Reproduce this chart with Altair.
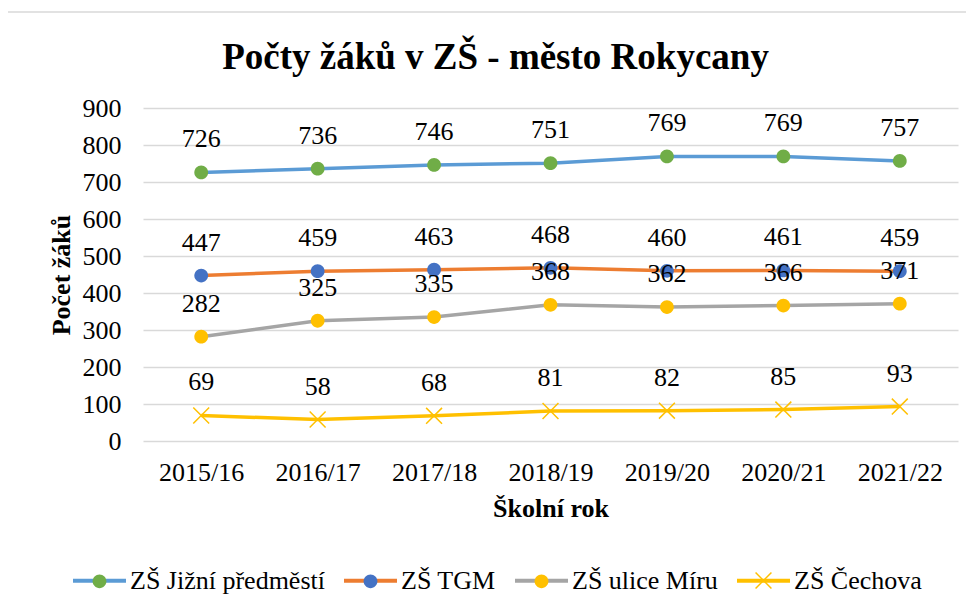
import altair as alt
import pandas as pd

years = ["2015/16", "2016/17", "2017/18", "2018/19", "2019/20", "2020/21", "2021/22"]
series = ["ZŠ Jižní předměstí", "ZŠ TGM", "ZŠ ulice Míru", "ZŠ Čechova"]
jizni = [726, 736, 746, 751, 769, 769, 757]
tgm = [447, 459, 463, 468, 460, 461, 459]
miru = [282, 325, 335, 368, 362, 366, 371]
cechova = [69, 58, 68, 81, 82, 85, 93]

line_colors = ["#5B9BD5", "#ED7D31", "#A5A5A5", "#FFC000"]
marker_colors = ["#70AD47", "#4472C4", "#FFC000", "#FFC000"]

# symbol paths share the same -1..1 horizontal extent (via move-to points) so the
# line legend and the marker legend lay out identically
CIRCLE_PATH = ("M-1,0M1,0M-0.26,0A0.26,0.26,0,1,1,0.26,0"
               "A0.26,0.26,0,1,1,-0.26,0Z")
X_PATH = ("M-1,0M1,0"
          "M-0.28,-0.32L0.32,0.28L0.28,0.32L-0.32,-0.28Z"
          "M0.32,-0.28L-0.28,0.32L-0.32,0.28L0.28,-0.32Z")
LINE_PATH = "M-1,0L1,0"
marker_shapes = [CIRCLE_PATH, CIRCLE_PATH, CIRCLE_PATH, X_PATH]

rows = []
for name, vals in zip(series, [jizni, tgm, miru, cechova]):
    for y, v in zip(years, vals):
        rows.append({"rok": y, "skola": name, "pocet": v})
df = pd.DataFrame(rows)

FONT = "'Liberation Serif', 'Times New Roman', Times, 'DejaVu Serif', serif"
SYM = 2809

x_enc = alt.X("rok:N", sort=years, scale=alt.Scale(type="point", padding=0.5),
              axis=alt.Axis(title="Školní rok", labelAngle=0, grid=False, domain=False,
                            ticks=False, labelPadding=18, titlePadding=10))
y_enc = alt.Y("pocet:Q", scale=alt.Scale(domain=[0, 900], nice=False),
              axis=alt.Axis(title="Počet žáků", values=list(range(0, 901, 100)),
                            domain=False, ticks=False, labelPadding=22, titlePadding=8,
                            gridColor="#D9D9D9", gridWidth=1.3))

LEG_X = -72
LEG_Y = 444

line_legend = alt.Legend(title=None, orient="none", direction="horizontal",
                         legendX=LEG_X, legendY=LEG_Y, symbolType=LINE_PATH,
                         symbolSize=SYM, symbolStrokeWidth=4, labelOffset=2,
                         columnPadding=11, labelFontSize=26, labelFont=FONT,
                         labelColor="#000000", labelLimit=0)
point_legend = alt.Legend(title=None, orient="none", direction="horizontal",
                          legendX=LEG_X, legendY=LEG_Y, symbolSize=SYM,
                          symbolStrokeWidth=4, symbolStrokeColor="transparent",
                          labelOffset=2, columnPadding=11, labelFontSize=26,
                          labelFont=FONT, labelColor="transparent", labelLimit=0)

base = alt.Chart(df)

lines = base.mark_line(strokeWidth=3.5).encode(
    x=x_enc, y=y_enc,
    color=alt.Color("skola:N", sort=series,
                    scale=alt.Scale(domain=series, range=line_colors),
                    legend=line_legend),
    detail="skola:N",
)

points = base.mark_point(filled=True, size=SYM, strokeWidth=0, opacity=1).encode(
    x=x_enc, y=y_enc,
    fill=alt.Fill("skola:N", scale=alt.Scale(domain=series, range=marker_colors),
                  legend=point_legend),
    shape=alt.Shape("skola:N", scale=alt.Scale(domain=series, range=marker_shapes),
                    legend=point_legend),
)

labels = base.mark_text(dy=-25, baseline="alphabetic", fontSize=26, font=FONT,
                        color="#000000").encode(
    x=x_enc, y=y_enc, text="pocet:Q"
)

border = alt.Chart(pd.DataFrame({"b": [1]})).mark_rect(
    fill="transparent", stroke="#D9D9D9", strokeWidth=1.5
).encode(
    x=alt.value(-137), x2=alt.value(900), y=alt.value(-96), y2=alt.value(560)
)

chart = alt.layer(border, lines, points, labels).resolve_scale(
    color="independent", fill="independent", shape="independent"
).properties(
    width=815, height=333,
    title=alt.TitleParams("Počty žáků v ZŠ - město Rokycany", font=FONT, fontSize=37,
                          fontWeight="bold", color="#000000", anchor="middle",
                          baseline="alphabetic", dx=-55, offset=-95),
    autosize=alt.AutoSizeParams(type="none"),
    padding={"left": 135, "top": 100, "right": 8, "bottom": 163},
).configure_view(stroke=None).configure_axis(
    labelFont=FONT, labelFontSize=26, labelColor="#000000",
    titleFont=FONT, titleFontSize=26, titleFontWeight="bold", titleColor="#000000",
).configure_legend(
    labelFont=FONT, labelFontSize=26
)

chart.save("out.html", embed_options={"renderer": "svg", "actions": False})
